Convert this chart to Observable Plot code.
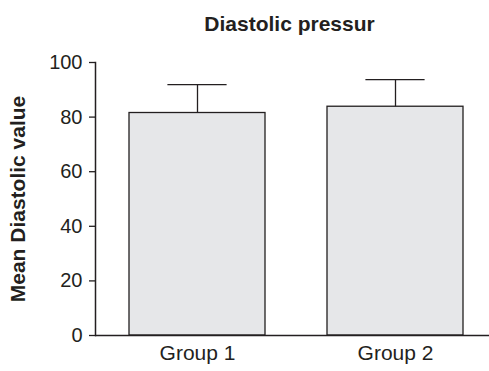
<!DOCTYPE html>
<html>
<head>
<meta charset="utf-8">
<script src="https://cdn.jsdelivr.net/npm/d3@7"></script>
<script src="https://cdn.jsdelivr.net/npm/@observablehq/plot@0.6"></script>
<style>
  html, body { margin: 0; padding: 0; background: #fff; }
  #chart svg { display: block; }
</style>
</head>
<body>
<div id="chart"></div>
<script>
const groups = ["Group 1", "Group 2"];
const means = [81.5, 83.8];
const errors = [10.4, 9.9];
const yTicks = [0, 20, 40, 60, 80, 100];
const title = "Diastolic pressur";
const yLabel = "Mean Diastolic value";

const data = groups.map((g, i) => ({group: g, mean: means[i], upper: means[i] + errors[i]}));
const ink = "#231f20";

const chart = Plot.plot({
  width: 489,
  height: 371,
  marginTop: 62,
  marginBottom: 36,
  marginLeft: 95,
  marginRight: 0,
  style: {fontFamily: "'Liberation Sans', Arial, sans-serif", color: ink, background: "#fff"},
  x: {domain: groups, range: [95, 497], paddingInner: 0.315, paddingOuter: 0.171, label: null},
  y: {domain: [0, 100], label: null},
  marks: [
    Plot.barY(data, {x: "group", y: "mean", fill: "#e6e7e9", stroke: ink, strokeWidth: 1.3}),
    Plot.ruleX(data, {x: "group", y1: "mean", y2: "upper", stroke: ink, strokeWidth: 1.3}),
    Plot.tickY(data, {x: "group", y: "upper", stroke: ink, strokeWidth: 1.3, insetLeft: 38.4, insetRight: 38.4}),
    Plot.axisY({ticks: yTicks, tickSize: 6, tickPadding: 7, fontSize: 20, stroke: ink, strokeWidth: 1.3, fill: ink, label: null}),
    Plot.axisX({tickSize: 0, tickPadding: 10, fontSize: 21, fill: ink, label: null}),
    Plot.frame({anchor: "left", stroke: ink, strokeWidth: 1.5}),
    Plot.ruleY([0], {stroke: ink, strokeWidth: 1.5}),
    Plot.text([title], {frameAnchor: "top", textAnchor: "middle", lineAnchor: "middle", dy: -38, dx: -3, fontSize: 21, fontWeight: "bold", fill: ink}),
    Plot.text([yLabel], {frameAnchor: "left", textAnchor: "middle", lineAnchor: "middle", dx: -77, rotate: -90, fontSize: 21, fontWeight: "bold", fill: ink})
  ]
});
document.getElementById("chart").append(chart);
</script>
</body>
</html>
